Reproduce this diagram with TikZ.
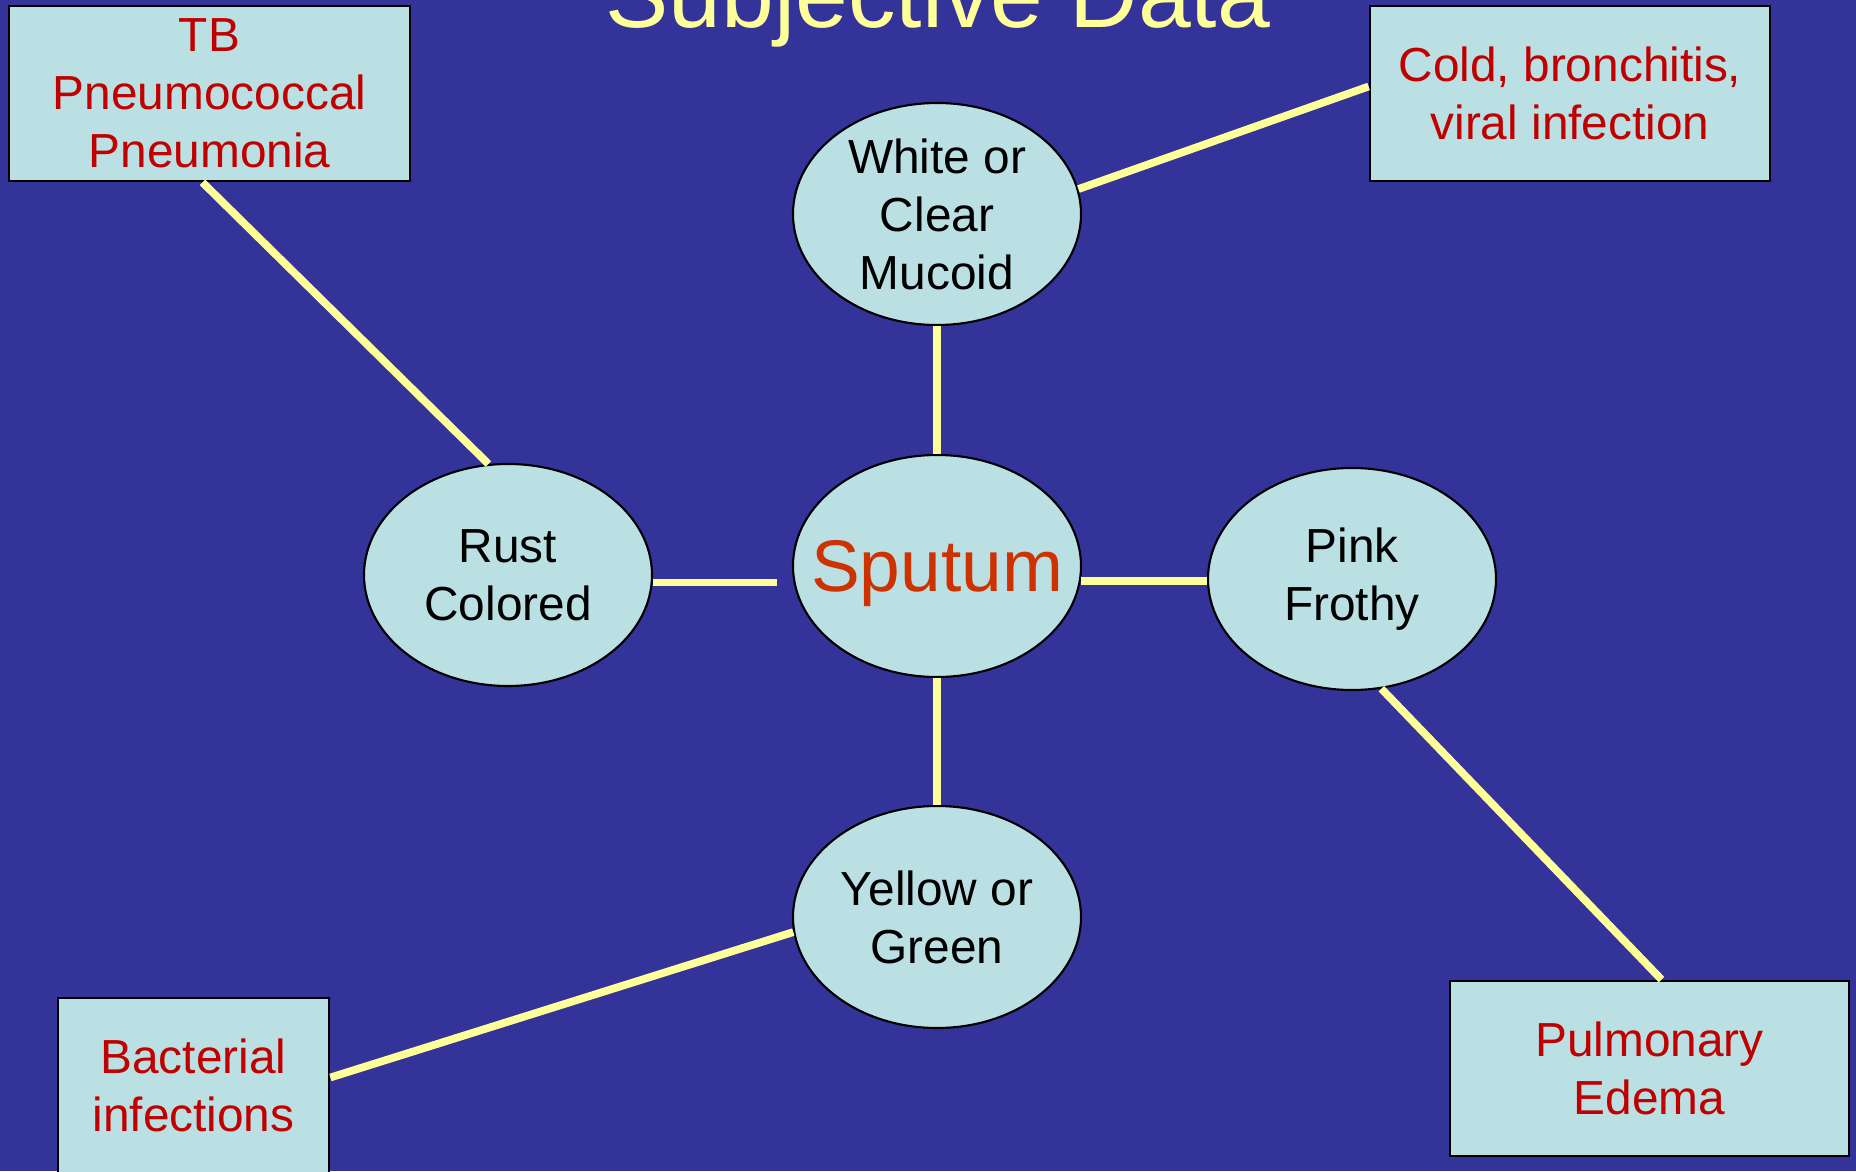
\documentclass[tikz,border=0pt]{standalone}
\usepackage{fontspec}
\setmainfont{Liberation Sans}
\usetikzlibrary{shapes.geometric}

\definecolor{slideblue}{HTML}{333399}
\definecolor{paleaqua}{HTML}{BBE0E3}
\definecolor{causered}{HTML}{C00000}
\definecolor{sputumred}{HTML}{CC3300}
\definecolor{linkyellow}{HTML}{FFFF99}

\begin{document}
\begin{tikzpicture}[
    bubble/.style={ellipse,draw=black,line width=0.6pt,fill=paleaqua,
      minimum width=2.88cm,minimum height=2.22cm,inner sep=0pt,
      align=center,font=\fontsize{13.6}{16.5}\selectfont},
    causebox/.style={rectangle,draw=black,line width=0.8pt,fill=paleaqua,
      minimum height=1.75cm,inner sep=0pt,align=center,text=causered,
      font=\fontsize{13.6}{16.5}\selectfont},
    link/.style={draw=linkyellow,line width=2.2pt}
  ]

    \useasboundingbox (0,0) rectangle (18.56,11.71);
    \fill[slideblue] (0,0) rectangle (18.56,11.71);

    \node[anchor=base,text=linkyellow,font=\fontsize{27}{32}\selectfont]
    (title) at (9.38,11.43) {Subjective Data};



    \node[bubble] (white) at (9.37,9.57) {White or\\Clear\\Mucoid};

    \node[bubble,inner xsep=-0.3cm,text depth=0pt,text=sputumred,
      font=\fontsize{20.8}{25}\selectfont] (sputum) at (9.37,6.05) {Sputum};

    \node[bubble] (rust) at (5.08,5.96) {Rust\\Colored};

    \node[bubble] (pink) at (13.52,5.92) {Pink\\Frothy};

    \node[bubble] (yellow) at (9.37,2.54) {Yellow or\\Green};



    \node[causebox,minimum width=4.01cm] (tb) at (2.095,10.775)
    {TB\\Pneumococcal\\Pneumonia};

    \node[causebox,minimum width=4.00cm] (cold) at (15.70,10.775)
    {Cold, bronchitis,\\viral infection};

    \node[causebox,minimum width=2.71cm] (bact) at (1.935,0.855)
    {Bacterial\\infections};

    \node[causebox,minimum width=3.99cm] (pulm) at (16.495,1.025)
    {Pulmonary\\Edema};



    \draw[link] (white) -- (sputum);
    \draw[link] (sputum) -- (yellow);
    \draw[link,shorten >=0.15cm] (rust.-3) -- (rust.-3 -| sputum.west);
    \draw[link] (sputum.-6) -- (sputum.-6 -| pink.west);

    \draw[link] ([xshift=-0.07cm]tb.south) -- (rust.100);
    \draw[link] ([yshift=0.07cm]cold.west) -- (white.10);
    \draw[link] (pink.-75) -- ([xshift=0.12cm]pulm.north);
    \draw[link] (yellow.186) -- ([yshift=0.08cm]bact.east);

\end{tikzpicture}
\end{document}
